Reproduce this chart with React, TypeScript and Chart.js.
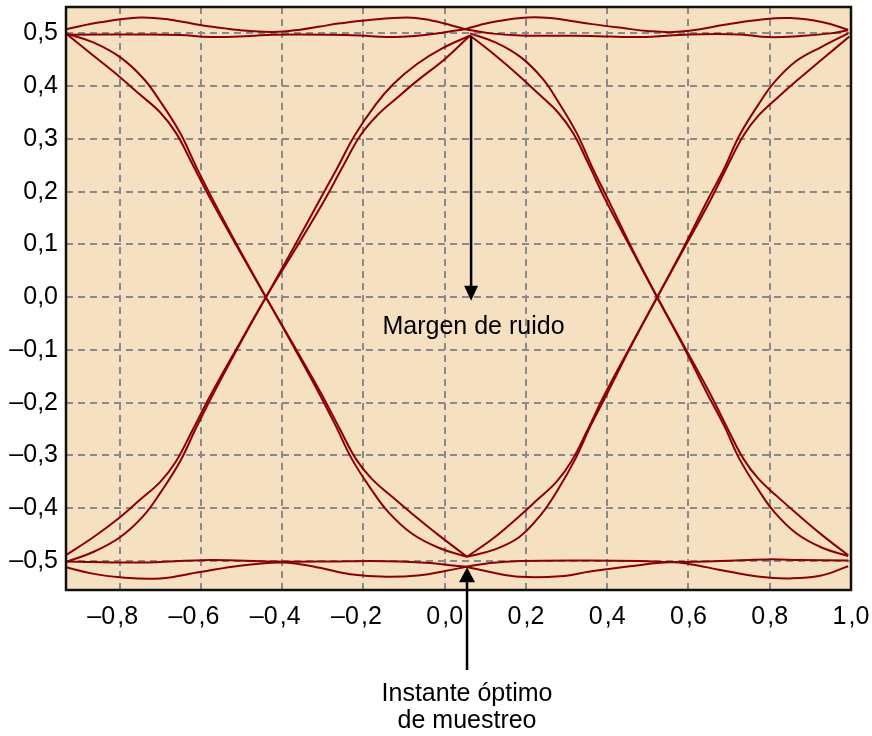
import React, { useEffect, useRef } from "react";
import { Chart, registerables } from "chart.js";

Chart.register(...registerables);

// ---------- axis ----------
const X_MIN = -0.932;
const X_MAX = 1.0;
const Y_MIN = -0.555;
const Y_MAX = 0.55;
const X_TICKS = [-0.8, -0.6, -0.4, -0.2, 0, 0.2, 0.4, 0.6, 0.8, 1.0];
const Y_TICKS = [-0.5, -0.4, -0.3, -0.2, -0.1, 0, 0.1, 0.2, 0.3, 0.4, 0.5];

// ---------- traces (x, y) ----------
type P = [number, number];

const TOP_WAVY_1: P[] = [[-0.932,0.508],[-0.848,0.521],[-0.750,0.530],[-0.676,0.526],[-0.602,0.516],[-0.536,0.509],[-0.486,0.505],[-0.422,0.5025],[-0.356,0.507],[-0.307,0.513],[-0.257,0.519],[-0.191,0.525],[-0.093,0.530],[-0.036,0.525],[0.013,0.516],[0.050,0.508]];
const TOP_FLAT_1: P[] = [[-0.932,0.4975],[-0.750,0.498],[-0.651,0.497],[-0.577,0.493],[-0.479,0.495],[-0.422,0.4975],[-0.282,0.4975],[-0.208,0.496],[-0.142,0.493],[-0.060,0.496],[0.001,0.502],[0.050,0.508]];
const TOP_WAVY_2: P[] = [[0.050,0.508],[0.087,0.516],[0.129,0.523],[0.203,0.530],[0.260,0.529],[0.316,0.523],[0.358,0.518],[0.439,0.510],[0.500,0.5045],[0.562,0.5025],[0.629,0.508],[0.685,0.516],[0.776,0.526],[0.850,0.529],[0.931,0.521],[0.993,0.507]];
const TOP_FLAT_2: P[] = [[0.050,0.508],[0.112,0.500],[0.186,0.496],[0.284,0.4956],[0.358,0.495],[0.481,0.493],[0.604,0.498],[0.727,0.498],[0.796,0.493],[0.875,0.495],[0.949,0.500],[0.993,0.506]];

const BOT_WAVY_1: P[] = [[-0.932,-0.512],[-0.873,-0.523],[-0.799,-0.531],[-0.700,-0.533],[-0.602,-0.521],[-0.504,-0.509],[-0.405,-0.503],[-0.356,-0.506],[-0.307,-0.513],[-0.233,-0.525],[-0.142,-0.530],[-0.060,-0.527],[0.001,-0.519],[0.053,-0.511]];
const BOT_FLAT_1: P[] = [[-0.932,-0.501],[-0.750,-0.503],[-0.577,-0.498],[-0.422,-0.501],[-0.282,-0.501],[-0.183,-0.500],[-0.110,-0.501],[-0.036,-0.504],[0.013,-0.508],[0.053,-0.511]];
const BOT_WAVY_2: P[] = [[0.053,-0.511],[0.112,-0.521],[0.186,-0.530],[0.284,-0.529],[0.358,-0.520],[0.456,-0.510],[0.555,-0.5025],[0.604,-0.506],[0.678,-0.517],[0.776,-0.530],[0.850,-0.533],[0.924,-0.528],[0.993,-0.510]];
const BOT_FLAT_2: P[] = [[0.053,-0.511],[0.112,-0.504],[0.186,-0.500],[0.358,-0.499],[0.481,-0.500],[0.555,-0.502],[0.678,-0.500],[0.794,-0.497],[0.875,-0.498],[0.993,-0.499]];

const FALL_1A: P[] = [[-0.932,0.5],[-0.865,0.483],[-0.799,0.455],[-0.742,0.415],[-0.700,0.371],[-0.651,0.311],[-0.612,0.248],[-0.570,0.184],[-0.504,0.089],[-0.440,0],[-0.376,-0.088],[-0.310,-0.181],[-0.268,-0.244],[-0.229,-0.306],[-0.180,-0.365],[-0.138,-0.408],[-0.081,-0.448],[-0.015,-0.475],[0.055,-0.492]];
const FALL_1B: P[] = [[-0.932,0.5],[-0.865,0.458],[-0.799,0.417],[-0.750,0.384],[-0.700,0.350],[-0.661,0.311],[-0.622,0.254],[-0.575,0.184],[-0.506,0.089],[-0.440,0],[-0.374,-0.088],[-0.305,-0.181],[-0.258,-0.250],[-0.219,-0.306],[-0.180,-0.344],[-0.130,-0.378],[-0.081,-0.410],[-0.015,-0.451],[0.055,-0.492]];
const RISE_1A: P[] = [[-0.932,-0.502],[-0.865,-0.483],[-0.799,-0.455],[-0.742,-0.415],[-0.700,-0.371],[-0.651,-0.311],[-0.612,-0.248],[-0.570,-0.184],[-0.504,-0.089],[-0.440,0],[-0.376,0.088],[-0.310,0.181],[-0.265,0.244],[-0.222,0.306],[-0.170,0.365],[-0.125,0.405],[-0.068,0.442],[-0.005,0.472],[0.0625,0.496]];
const RISE_1B: P[] = [[-0.932,-0.489],[-0.865,-0.455],[-0.799,-0.417],[-0.750,-0.384],[-0.700,-0.350],[-0.661,-0.311],[-0.622,-0.254],[-0.575,-0.184],[-0.506,-0.089],[-0.440,0],[-0.370,0.088],[-0.298,0.181],[-0.249,0.250],[-0.208,0.306],[-0.167,0.344],[-0.117,0.378],[-0.068,0.410],[0.000,0.451],[0.0625,0.496]];

const FALL_2A: P[] = [[0.0625,0.5],[0.125,0.483],[0.187,0.455],[0.240,0.415],[0.279,0.371],[0.325,0.311],[0.362,0.248],[0.403,0.184],[0.463,0.089],[0.523,0],[0.584,-0.088],[0.645,-0.181],[0.688,-0.244],[0.725,-0.306],[0.772,-0.365],[0.812,-0.408],[0.866,-0.448],[0.929,-0.475],[0.993,-0.4905]];
const FALL_2B: P[] = [[0.0625,0.496],[0.125,0.458],[0.187,0.417],[0.233,0.384],[0.279,0.350],[0.316,0.311],[0.353,0.254],[0.396,0.184],[0.461,0.089],[0.523,0],[0.586,-0.088],[0.652,-0.181],[0.697,-0.250],[0.735,-0.306],[0.772,-0.344],[0.819,-0.378],[0.866,-0.410],[0.929,-0.451],[0.993,-0.489]];
const RISE_2A: P[] = [[0.055,-0.492],[0.120,-0.479],[0.183,-0.455],[0.237,-0.412],[0.277,-0.367],[0.322,-0.306],[0.359,-0.244],[0.401,-0.181],[0.462,-0.088],[0.523,0],[0.584,0.088],[0.645,0.181],[0.688,0.244],[0.725,0.306],[0.772,0.365],[0.812,0.408],[0.866,0.448],[0.929,0.475],[0.993,0.5]];
const RISE_2B: P[] = [[0.055,-0.492],[0.118,-0.458],[0.181,-0.417],[0.228,-0.384],[0.275,-0.350],[0.312,-0.311],[0.350,-0.254],[0.394,-0.184],[0.460,-0.089],[0.523,0],[0.586,0.088],[0.652,0.181],[0.697,0.250],[0.735,0.306],[0.772,0.344],[0.819,0.378],[0.866,0.410],[0.929,0.451],[0.996,0.494]];

const TRACES: P[][] = [
  TOP_WAVY_1, TOP_FLAT_1, TOP_WAVY_2, TOP_FLAT_2,
  BOT_WAVY_1, BOT_FLAT_1, BOT_WAVY_2, BOT_FLAT_2,
  FALL_1A, FALL_1B, RISE_1A, RISE_1B,
  FALL_2A, FALL_2B, RISE_2A, RISE_2B,
];

// ---------- annotations ----------
const NOISE_LABEL = "Margen de ruido";
const NOISE_ARROW_X = 0.065;
const NOISE_ARROW_FROM = 0.494;
const NOISE_ARROW_TIP = -0.007;
const NOISE_LABEL_X = 0.071;
const NOISE_LABEL_Y = -0.057;
const SAMPLE_LABEL = ["Instante óptimo", "de muestreo"];
const SAMPLE_ARROW_X = 0.055;
const SAMPLE_ARROW_TIP = -0.512;

// ---------- styles ----------
const FONT = '"Liberation Sans", Arial, Helvetica, sans-serif';
const LINE_COLOR = "#8b0000";
const BG = "#f5e0c2";
const GRID = "#8a8a8a";

const fmt = (v: number, xAxis: boolean) => {
  const a = Math.abs(v).toFixed(1).replace(".", xAxis ? "\u200a," : ",");
  if (v < -1e-9) return "\u2013" + a + (xAxis ? "\u2007" : "");
  return a;
};

function drawArrow(ctx: CanvasRenderingContext2D, x: number, yFrom: number, yTip: number, headLen: number, headHalf: number) {
  const dir = yTip > yFrom ? 1 : -1;
  ctx.beginPath();
  ctx.moveTo(x, yFrom);
  ctx.lineTo(x, yTip - dir * (headLen - 2));
  ctx.stroke();
  ctx.beginPath();
  ctx.moveTo(x, yTip);
  ctx.lineTo(x - headHalf, yTip - dir * headLen);
  ctx.lineTo(x + headHalf, yTip - dir * headLen);
  ctx.closePath();
  ctx.fill();
}

const decoPlugin = {
  id: "deco",
  beforeDraw(chart: any) {
    const { ctx, chartArea: a } = chart;
    ctx.save();
    ctx.fillStyle = BG;
    ctx.fillRect(a.left, a.top, a.right - a.left, a.bottom - a.top);
    ctx.restore();
  },
  afterDraw(chart: any) {
    const { ctx, chartArea: a } = chart;
    const xs = chart.scales.x;
    const ys = chart.scales.y;
    ctx.save();
    // frame
    ctx.strokeStyle = "#111";
    ctx.lineWidth = 2.5;
    ctx.strokeRect(a.left, a.top, a.right - a.left, a.bottom - a.top);
    // arrows
    ctx.strokeStyle = "#000";
    ctx.fillStyle = "#000";
    ctx.lineWidth = 2.5;
    const nx = xs.getPixelForValue(NOISE_ARROW_X);
    drawArrow(ctx, nx, ys.getPixelForValue(NOISE_ARROW_FROM), ys.getPixelForValue(NOISE_ARROW_TIP), 15, 7);
    const sx = xs.getPixelForValue(SAMPLE_ARROW_X);
    drawArrow(ctx, sx, a.bottom + 80, ys.getPixelForValue(SAMPLE_ARROW_TIP), 15, 8);
    // texts
    ctx.font = "25px " + FONT;
    ctx.textAlign = "center";
    ctx.textBaseline = "middle";
    ctx.fillText(NOISE_LABEL, xs.getPixelForValue(NOISE_LABEL_X), ys.getPixelForValue(NOISE_LABEL_Y));
    ctx.fillText(SAMPLE_LABEL[0], sx, a.bottom + 104);
    ctx.fillText(SAMPLE_LABEL[1], sx, a.bottom + 131);
    ctx.restore();
  },
};

export default function App() {
  const ref = useRef<HTMLCanvasElement | null>(null);
  useEffect(() => {
    if (!ref.current) return;
    const chart = new Chart(ref.current, {
      type: "scatter",
      data: {
        datasets: TRACES.map((t) => ({
          data: t.map(([x, y]) => ({ x, y })),
          showLine: true,
          borderColor: LINE_COLOR,
          backgroundColor: LINE_COLOR,
          borderWidth: 2,
          pointRadius: 0,
          tension: 0.4,
        })),
      },
      options: {
        animation: false,
        responsive: false,
        devicePixelRatio: 1,
        layout: { padding: { top: 7, right: 21, left: 0, bottom: 0 } },
        plugins: { legend: { display: false }, tooltip: { enabled: false } },
        scales: {
          x: {
            type: "linear",
            min: X_MIN,
            max: X_MAX,
            afterBuildTicks: (s: any) => { s.ticks = X_TICKS.map((v) => ({ value: v })); },
            afterFit: (s: any) => { s.height = 146; s.paddingLeft = 0; s.paddingRight = 0; },
            grid: {
              color: (c: any) => (c.tick && c.tick.value > 0.99 ? "rgba(0,0,0,0)" : GRID),
              lineWidth: 2,
              drawTicks: false,
            },
            border: { display: false, dash: [7, 5] },
            ticks: {
              autoSkip: false,
              maxRotation: 0,
              padding: 12,
              color: "#000",
              font: { family: FONT, size: 25 },
              callback: (v: any) => fmt(Number(v), true),
            },
          },
          y: {
            type: "linear",
            min: Y_MIN,
            max: Y_MAX,
            afterBuildTicks: (s: any) => { s.ticks = Y_TICKS.map((v) => ({ value: v })); },
            afterFit: (s: any) => { s.width = 66; s.paddingTop = 0; s.paddingBottom = 0; },
            grid: { color: GRID, lineWidth: 2, drawTicks: false },
            border: { display: false, dash: [7, 5] },
            ticks: {
              autoSkip: false,
              padding: 8,
              color: "#000",
              font: { family: FONT, size: 25 },
              callback: (v: any) => fmt(Number(v), false),
            },
          },
        },
      },
      plugins: [decoPlugin],
    });
    return () => chart.destroy();
  }, []);
  return (
    <div style={{ position: "absolute", left: 0, top: 0, width: 872, height: 736, background: "#fff" }}>
      <canvas ref={ref} width={872} height={736} />
    </div>
  );
}
